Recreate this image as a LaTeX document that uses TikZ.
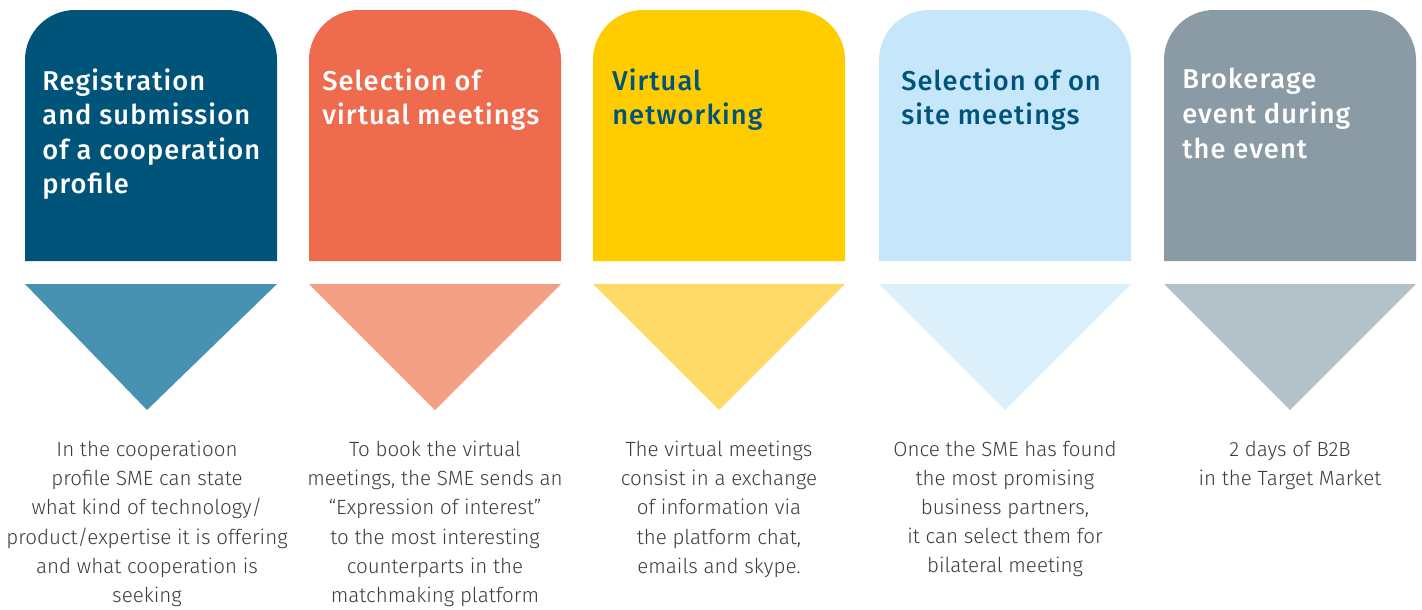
\documentclass[tikz,border=0pt]{standalone}
\usepackage{fontspec}
\setmainfont{Fira Sans}
\newfontfamily\headfont{Fira Sans Medium}[LetterSpace=4]
\newfontfamily\notefont{Fira Sans Light}
\usepackage{xcolor}
\usepackage{tikz}
\usetikzlibrary{positioning}

\definecolor{boxA}{HTML}{00547A}
\definecolor{triA}{HTML}{4792B0}
\definecolor{boxB}{HTML}{EE6C4D}
\definecolor{triB}{HTML}{F39F83}
\definecolor{boxC}{HTML}{FFCC00}
\definecolor{triC}{HTML}{FFDA66}
\definecolor{boxD}{HTML}{C6E7F9}
\definecolor{triD}{HTML}{DCF0FB}
\definecolor{boxE}{HTML}{8B9BA5}
\definecolor{triE}{HTML}{B4C1C8}
\definecolor{notegrey}{HTML}{3C3C3C}

\tikzset{
	head/.style={anchor=north west, inner sep=0pt, align=left, text=white,
		font=\headfont\fontsize{15.5}{19.7}\selectfont},
	note/.style={anchor=north, inner sep=0pt, align=center, text=notegrey,
		font=\notefont\fontsize{11.7}{16.55}\selectfont}
}

\begin{document}
\begin{tikzpicture}[x=0.02cm,y=0.02cm]
	\useasboundingbox (0,0) rectangle (1422,-609);
	\foreach \x/\c/\cx in {25/A/147, 309/B/435, 593/C/719, 879/D/1005, 1164/E/1290} {
		\fill[box\c] (\x,-261) -- (\x,-60) arc[start angle=180,end angle=90,radius=50] -- ++(152,0) arc[start angle=90,end angle=0,radius=50] -- (\x+252,-261) -- cycle;
		\fill[tri\c] (\x,-284) -- (\x+252,-284) -- (\cx,-410) -- cycle;
	}
	\node[head] (head1) at (42,-68) {Registration\\and submission\\of a cooperation\\profile};
	\node[head] (head2) at (322,-68) {Selection of\\virtual meetings};
	\node[head, text=boxA] (head3) at (612,-68) {Virtual\\networking};
	\node[head, text=boxA] (head4) at (901,-68) {Selection of on\\site meetings};
	\node[head] (head5) at (1182,-68) {Brokerage\\event during\\the event};
	\node[note] (note1) at (147,-441) {In the cooperatioon\\profile SME can state\\what kind of technology/\\product/expertise it is offering\\and what cooperation is\\seeking};
	\node[note] (note2) at (435,-441) {To book the virtual\\meetings, the SME sends an\\“Expression of interest”\\to the most interesting\\counterparts in the\\matchmaking platform};
	\node[note] (note3) at (719,-441) {The virtual meetings\\consist in a exchange\\of information via\\the platform chat,\\emails and skype.};
	\node[note] (note4) at (1005,-441) {Once the SME has found\\the most promising\\business partners,\\it can select them for\\bilateral meeting};
	\node[note] (note5) at (1290,-441) {2 days of B2B\\in the Target Market};
\end{tikzpicture}
\end{document}
